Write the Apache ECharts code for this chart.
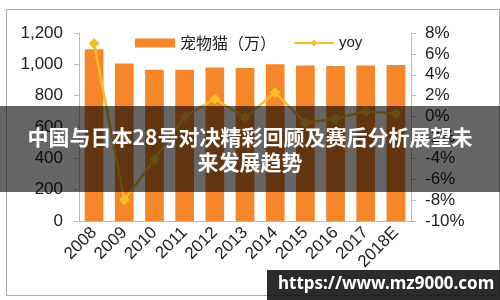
<!DOCTYPE html>
<html><head><meta charset="utf-8">
<script src="https://cdn.jsdelivr.net/npm/echarts@6/dist/echarts.min.js"></script>
<style>html,body{margin:0;padding:0;background:#fff}#c{width:500px;height:300px}</style>
</head><body><div id="c"></div>
<script>
const categories = ['2008','2009','2010','2011','2012','2013','2014','2015','2016','2017','2018E'];
const catCounts = [1097, 1006, 965, 965, 980, 977, 1001, 993, 989, 993, 996];
const yoyValues = [7.0, -8.0, -4.1, 0.0, 1.7, -0.1, 2.3, -0.6, -0.2, 0.5, 0.3];
const leftTicks = {min: 0, max: 1200, interval: 200};
const rightTicks = {min: -10, max: 8, interval: 2};
const seriesNames = ['宠物猫（万）', 'yoy'];
const titleLines = ['中国与日本28号对决精彩回顾及赛后分析展望未', '来发展趋势'];
const watermark = 'https://www.mz9000.com';

const chart = echarts.init(document.getElementById('c'), null, {renderer: 'canvas'});
const font = 'Liberation Sans, Arial, sans-serif';
const cjk = '"Noto Sans CJK SC", sans-serif';
chart.setOption({
  animation: false,
  grid: {left: 79, right: 89, top: 33, bottom: 79},
  legend: {
    left: 130, top: 30, itemGap: 17, itemWidth: 40, itemHeight: 9,
    textStyle: {fontSize: 16, color: '#222', fontFamily: cjk},
    data: [
      {name: seriesNames[0], icon: 'rect'},
      {name: seriesNames[1], textStyle: {fontSize: 15, fontFamily: font}}
    ]
  },
  xAxis: {
    type: 'category', data: categories,
    axisLine: {lineStyle: {color: '#bbb'}},
    axisTick: {length: 5, lineStyle: {color: '#bbb'}},
    axisLabel: {rotate: 45, fontSize: 17, color: '#222', fontFamily: font, margin: 9, interval: 0}
  },
  yAxis: [
    {
      type: 'value', min: leftTicks.min, max: leftTicks.max, interval: leftTicks.interval,
      splitLine: {show: false},
      axisLine: {show: true, lineStyle: {color: '#bbb'}},
      axisTick: {show: true, length: 5, lineStyle: {color: '#bbb'}},
      axisLabel: {fontSize: 17, color: '#222', fontFamily: font, margin: 16,
        formatter: v => v.toLocaleString('en-US')}
    },
    {
      type: 'value', min: rightTicks.min, max: rightTicks.max, interval: rightTicks.interval,
      splitLine: {show: false},
      axisLine: {show: true, lineStyle: {color: '#bbb'}},
      axisTick: {show: true, length: 5, lineStyle: {color: '#bbb'}},
      axisLabel: {fontSize: 17, color: '#222', fontFamily: font, margin: 14,
        formatter: v => v + '%'}
    }
  ],
  series: [
    {
      name: seriesNames[0], type: 'bar', data: catCounts, yAxisIndex: 0,
      barWidth: '62%', itemStyle: {color: '#F5862A'}
    },
    {
      name: seriesNames[1], type: 'line', data: yoyValues, yAxisIndex: 1,
      symbol: 'diamond', symbolSize: 11, showAllSymbol: true,
      lineStyle: {color: '#F9BC2C', width: 2.5},
      itemStyle: {color: '#F9BC2C'}
    }
  ],
  graphic: [
    {type: 'rect', left: 4, top: 7, z: 0, silent: true,
      shape: {width: 493, height: 286}, style: {fill: 'none', stroke: '#aaa', lineWidth: 1}},
    {type: 'rect', left: 0, top: 106, z: 100, silent: true,
      shape: {width: 500, height: 86}, style: {fill: 'rgba(0,0,0,0.6)'}},
    {type: 'text', z: 101, silent: true, left: 'center', top: 125,
      style: {text: titleLines.join('\n'), fill: '#fff', font: 'bold 21px "Noto Sans CJK SC", sans-serif',
        textAlign: 'center', lineHeight: 25}},
    {type: 'rect', left: 267, top: 270, z: 100, silent: true,
      shape: {width: 233, height: 30}, style: {fill: 'rgba(20,20,20,0.9)'}},
    {type: 'text', z: 101, silent: true, left: 278, top: 276,
      style: {text: watermark, fill: '#fff', font: 'bold 17px "Noto Sans", sans-serif'}}
  ]
});
</script></body></html>
